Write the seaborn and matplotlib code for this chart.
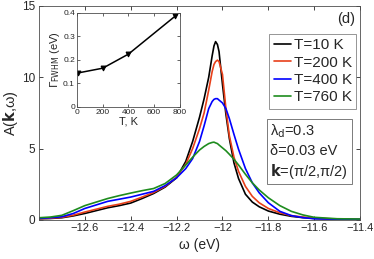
import numpy as np
import pandas as pd
import matplotlib
matplotlib.use("Agg")
import matplotlib.pyplot as plt
import seaborn as sns

sns.set_style("ticks")
plt.rcParams['font.family'] = ['Liberation Sans', 'DejaVu Sans']
plt.rcParams['mathtext.fontset'] = 'dejavusans'

# Spectral function A(k, w)
omega = [-12.8, -12.75, -12.7, -12.65, -12.6, -12.5, -12.45, -12.4, -12.35, -12.3,
         -12.25, -12.2, -12.16, -12.13, -12.1, -12.08, -12.06, -12.045, -12.037, -12.03,
         -12.022, -12.015, -12.0, -11.985, -11.97, -11.95, -11.93, -11.9, -11.87, -11.84,
         -11.8, -11.75, -11.7, -11.65, -11.6, -11.5, -11.4]
a_10 = [0.08, 0.1, 0.15, 0.28, 0.45, 0.85, 1.0, 1.18, 1.5, 1.85,
        2.3, 2.95, 4.1, 5.5, 7.2, 8.5, 10.0, 11.5, 12.2, 12.5,
        12.3, 11.8, 9.5, 7.4, 5.7, 4.0, 2.9, 1.8, 1.25, 0.92,
        0.62, 0.4, 0.25, 0.16, 0.1, 0.05, 0.03]
a_200 = [0.08, 0.12, 0.18, 0.33, 0.55, 0.95, 1.1, 1.3, 1.6, 1.92,
         2.35, 3.0, 3.9, 5.0, 6.4, 7.5, 9.1, 10.4, 10.9, 11.1,
         11.2, 11.1, 10.2, 7.8, 5.9, 4.4, 3.4, 2.35, 1.65, 1.2,
         0.8, 0.5, 0.3, 0.2, 0.12, 0.06, 0.04]
a_400 = [0.1, 0.15, 0.22, 0.45, 0.8, 1.3, 1.45, 1.6, 1.8, 2.0,
         2.4, 2.95, 3.6, 4.3, 5.5, 6.6, 7.8, 8.3, 8.45, 8.5,
         8.5, 8.4, 8.2, 7.8, 7.1, 6.0, 4.95, 3.6, 2.6, 1.9,
         1.2, 0.6, 0.3, 0.16, 0.08, 0.05, 0.04]
a_760 = [0.15, 0.2, 0.32, 0.65, 1.0, 1.5, 1.7, 1.88, 2.05, 2.2,
         2.55, 3.15, 3.85, 4.4, 4.9, 5.15, 5.35, 5.43, 5.45, 5.4,
         5.35, 5.25, 5.05, 4.85, 4.6, 4.25, 3.85, 3.2, 2.6, 2.1,
         1.55, 1.0, 0.6, 0.35, 0.18, 0.08, 0.06]
labels = ['T=10 K', 'T=200 K', 'T=400 K', 'T=760 K']
colors = ['black', '#e8401a', '#0000ff', '#1e8c1e']

# Inset: FWHM vs temperature
temps = [10, 200, 400, 760]
fwhm = [0.145, 0.165, 0.225, 0.385]

df = pd.DataFrame({
    'omega': omega * 4,
    'A': a_10 + a_200 + a_400 + a_760,
    'T': np.repeat(labels, len(omega)),
})

fig = plt.figure(figsize=(3.74, 2.59), dpi=100)
ax = fig.add_axes([0.104, 0.151, 0.859, 0.826])
sns.lineplot(data=df, x='omega', y='A', hue='T', palette=colors, sort=False,
             lw=1.2, ax=ax)

ax.set_xlim(-12.8, -11.4)
ax.set_ylim(0, 15)
ax.set_xticks([-12.6, -12.4, -12.2, -12.0, -11.8, -11.6, -11.4])
ax.set_xticklabels(['\u221212.6', '\u221212.4', '\u221212.2', '\u221212',
                    '\u221211.8', '\u221211.6', '\u221211.4'])
ax.set_yticks([0, 5, 10, 15])
ax.tick_params(direction='in', top=True, right=True, length=3, width=0.6,
               labelsize=8, pad=2.5)
ax.tick_params(axis='y', labelsize=8.5)
for s in ax.spines.values():
    s.set_linewidth(0.6)
    s.set_color('0.3')
ax.set_xlabel('\u03c9 (eV)', fontsize=10, labelpad=3)
ax.set_ylabel('A($\\mathbf{k}$,\u03c9)', fontsize=10.5, labelpad=1.5)

leg = ax.legend(loc='upper right', bbox_to_anchor=(0.988, 0.87), fontsize=11,
                frameon=True, fancybox=False, edgecolor='0.4', handlelength=1.15,
                handletextpad=0.15, labelspacing=0.22, borderpad=0.3,
                borderaxespad=0)
leg.get_frame().set_linewidth(0.6)
for line in leg.get_lines():
    line.set_linewidth(1.2)

ax.text(0.985, 0.97, '(d)', transform=ax.transAxes, ha='right', va='top',
        fontsize=10.5)
ax.text(0.72, 0.455,
        '\u03bb$_\\mathrm{d}$=0.3\n\u03b4=0.03 eV\n$\\mathbf{k}$=(\u03c0/2,\u03c0/2)',
        transform=ax.transAxes, ha='left', va='top', fontsize=10.5, linespacing=1.3,
        bbox=dict(boxstyle='square,pad=0.25', fc='white', ec='0.4', lw=0.6))

# inset
ins = fig.add_axes([0.206, 0.587, 0.275, 0.363])
sns.lineplot(x=temps, y=fwhm, color='black', marker='v', markersize=3.5,
             markeredgecolor='black', lw=1.1, ax=ins)
ins.set_xlim(0, 800)
ins.set_ylim(0, 0.4)
ins.set_xticks([0, 200, 400, 600, 800])
ins.set_yticks([0, 0.1, 0.2, 0.3, 0.4])
ins.set_yticklabels(['0', '0.1', '0.2', '0.3', '0.4'])
ins.tick_params(direction='in', top=True, right=True, length=2, width=0.5,
                labelsize=6, pad=1.5)
for s in ins.spines.values():
    s.set_linewidth(0.6)
    s.set_color('0.3')
ins.set_xlabel('T, K', fontsize=8, labelpad=0)
ins.set_ylabel('$\\Gamma_{\\rm FWHM}$ (eV)', fontsize=8, labelpad=1)

fig.savefig('out.png', dpi=100)
